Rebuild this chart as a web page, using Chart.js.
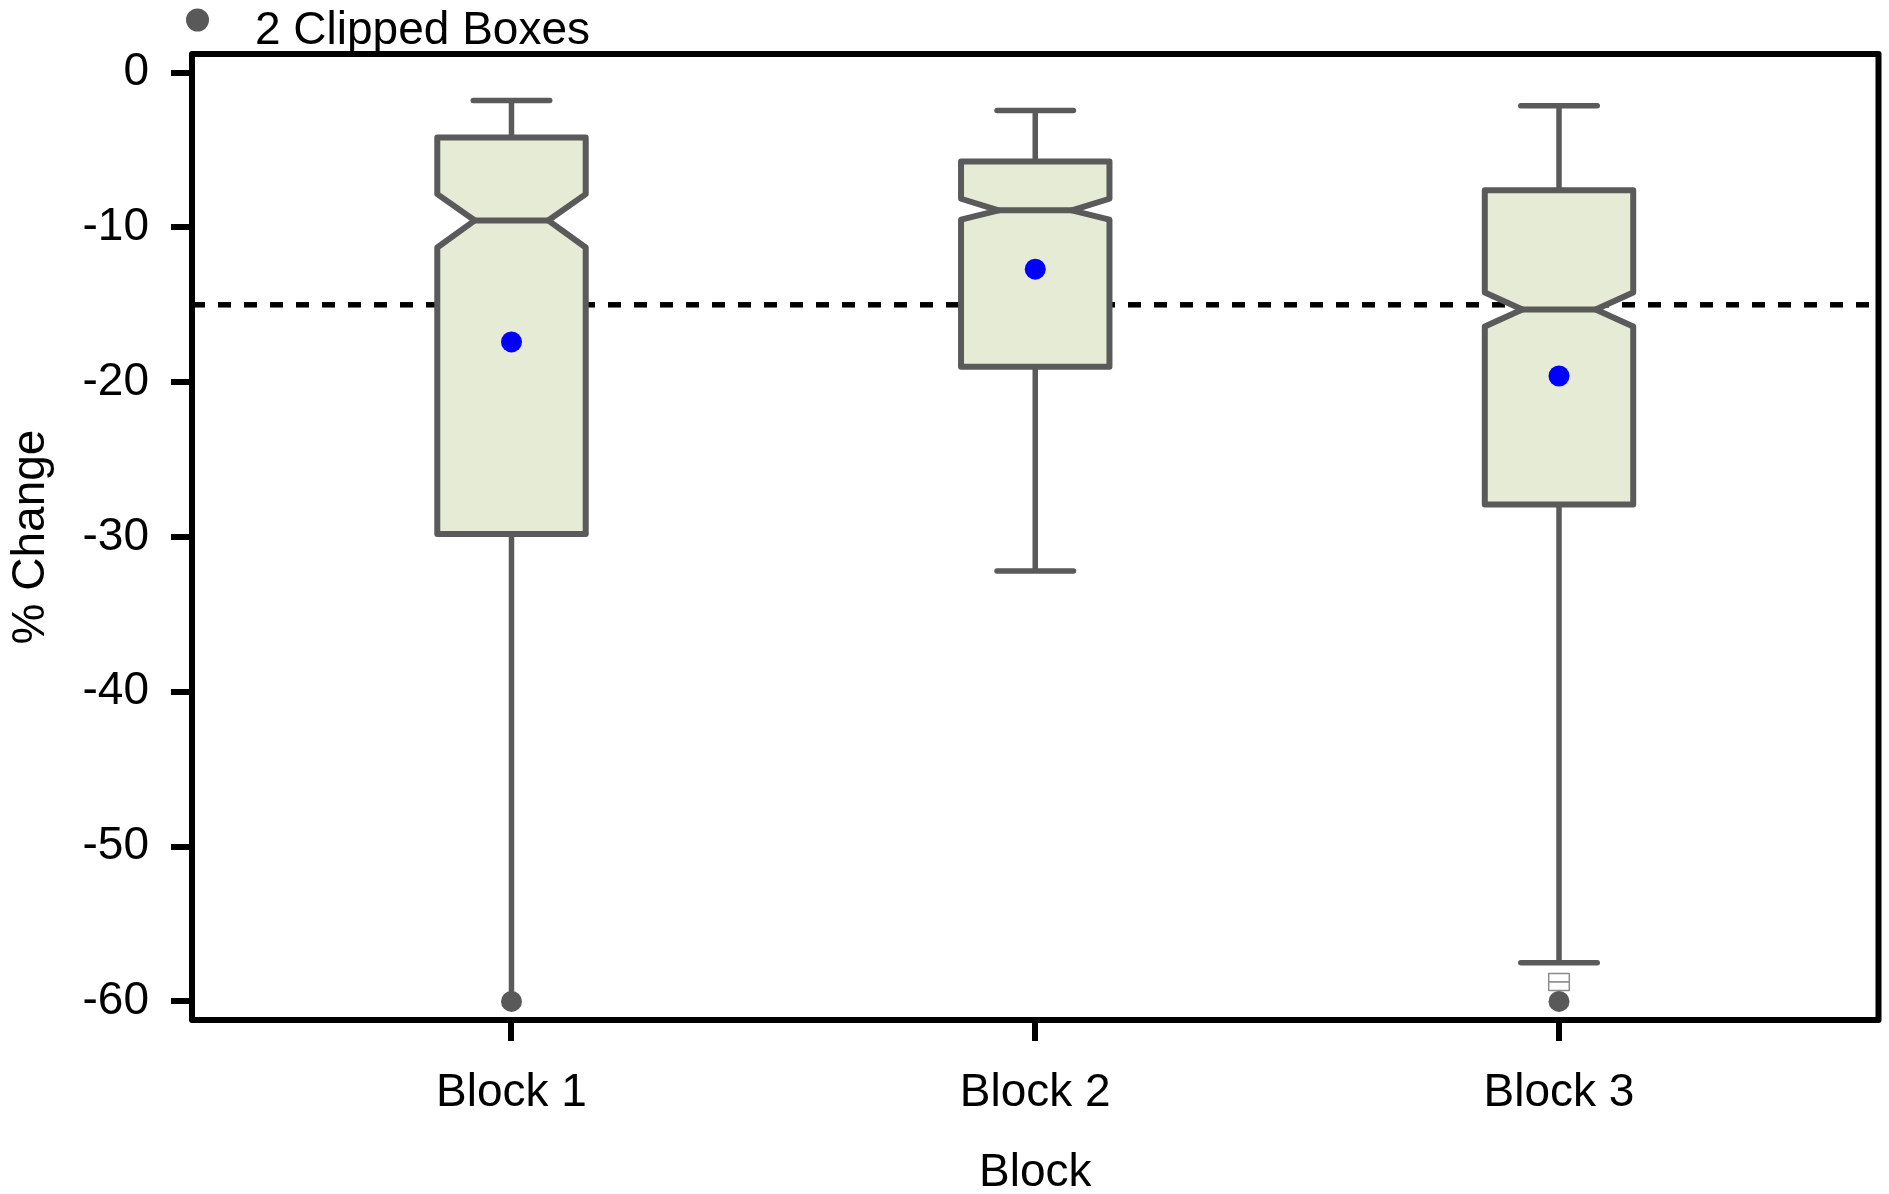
<!DOCTYPE html>
<html>
<head>
<meta charset="utf-8">
<script src="https://cdn.jsdelivr.net/npm/chart.js@4.4.0/dist/chart.umd.min.js"></script>
<style>
  html, body { margin: 0; padding: 0; background: #ffffff; }
  #wrap { width: 1889px; height: 1194px; position: relative; }
</style>
</head>
<body>
<div id="wrap"><canvas id="chart"></canvas></div>
<script>
// ---- data ----
const categories = ['Block 1', 'Block 2', 'Block 3'];
const positions = [1, 2, 3];
const whiskerHigh = [-1.8, -2.45, -2.15];
const q3 = [-4.2, -5.75, -7.6];
const notchHigh = [-7.85, -8.15, -14.2];
const median = [-9.55, -8.9, -15.3];
const notchLow = [-11.3, -9.5, -16.4];
const q1 = [-29.8, -19.0, -27.9];
const whiskerLow = [-60, -32.2, -57.5];
const whiskerLowCapped = [false, true, true];
const means = [-17.4, -12.7, -19.6];
const clippedX = [1, 3];
const clippedY = [-60, -60];
const outlierX = [3, 3];
const outlierY = [-58.47, -59.02];
const referenceValue = -15;
const yTicks = [0, -10, -20, -30, -40, -50, -60];
const legendLabel = '2 Clipped Boxes';
const xTitle = 'Block';
const yTitle = '% Change';

// ---- styles ----
const FONT = "'Liberation Sans', Arial, Helvetica, sans-serif";
const FSIZE = 46;
const boxLine = '#5a5a5a';
const boxFill = 'rgb(230,235,214)';
const boxHalf = 0.1417;
const notchHalf = 0.070;
const capHalf = 0.073;

const boxPlugin = {
  id: 'notchedBoxes',
  beforeDatasetsDraw(chart) {
    const { ctx, chartArea, scales: { x, y } } = chart;
    const px = v => x.getPixelForValue(v);
    const py = v => y.getPixelForValue(v);
    ctx.save();
    // reference line
    ctx.beginPath();
    ctx.setLineDash([13, 13]);
    ctx.lineWidth = 5.5;
    ctx.strokeStyle = '#000000';
    const ry = py(referenceValue);
    ctx.moveTo(chartArea.left, ry);
    ctx.lineTo(chartArea.right, ry);
    ctx.stroke();
    ctx.setLineDash([]);

    ctx.strokeStyle = boxLine;
    ctx.lineCap = 'round';
    ctx.lineJoin = 'round';
    positions.forEach((p, i) => {
      // whiskers
      ctx.lineWidth = 5.5;
      ctx.beginPath();
      ctx.moveTo(px(p), py(q3[i]));
      ctx.lineTo(px(p), py(whiskerHigh[i]));
      ctx.moveTo(px(p - capHalf), py(whiskerHigh[i]));
      ctx.lineTo(px(p + capHalf), py(whiskerHigh[i]));
      ctx.moveTo(px(p), py(q1[i]));
      ctx.lineTo(px(p), py(whiskerLow[i]));
      if (whiskerLowCapped[i]) {
        ctx.moveTo(px(p - capHalf), py(whiskerLow[i]));
        ctx.lineTo(px(p + capHalf), py(whiskerLow[i]));
      }
      ctx.stroke();
      // notched box
      ctx.lineWidth = 6;
      ctx.beginPath();
      ctx.moveTo(px(p - boxHalf), py(q3[i]));
      ctx.lineTo(px(p + boxHalf), py(q3[i]));
      ctx.lineTo(px(p + boxHalf), py(notchHigh[i]));
      ctx.lineTo(px(p + notchHalf), py(median[i]));
      ctx.lineTo(px(p + boxHalf), py(notchLow[i]));
      ctx.lineTo(px(p + boxHalf), py(q1[i]));
      ctx.lineTo(px(p - boxHalf), py(q1[i]));
      ctx.lineTo(px(p - boxHalf), py(notchLow[i]));
      ctx.lineTo(px(p - notchHalf), py(median[i]));
      ctx.lineTo(px(p - boxHalf), py(notchHigh[i]));
      ctx.closePath();
      ctx.fillStyle = boxFill;
      ctx.fill();
      ctx.stroke();
      // median
      ctx.beginPath();
      ctx.moveTo(px(p - notchHalf), py(median[i]));
      ctx.lineTo(px(p + notchHalf), py(median[i]));
      ctx.stroke();
    });
    // small outlier boxes
    ctx.lineWidth = 1.5;
    ctx.strokeStyle = '#8c8c8c';
    ctx.fillStyle = '#ffffff';
    outlierX.forEach((ox, i) => {
      const cx = px(ox), cy = py(outlierY[i]);
      ctx.beginPath();
      ctx.rect(cx - 10.3, cy - 4.3, 20.6, 8.6);
      ctx.fill();
      ctx.stroke();
    });
    ctx.restore();
  },
  afterDraw(chart) {
    const { ctx, chartArea } = chart;
    ctx.save();
    // frame
    ctx.lineWidth = 6;
    ctx.strokeStyle = '#000000';
    ctx.lineJoin = 'round';
    ctx.strokeRect(chartArea.left, chartArea.top, chartArea.right - chartArea.left, chartArea.bottom - chartArea.top);
    // legend
    ctx.beginPath();
    ctx.fillStyle = '#595959';
    ctx.arc(197.5, 20, 11.5, 0, Math.PI * 2);
    ctx.fill();
    ctx.fillStyle = '#000000';
    ctx.font = FSIZE + 'px ' + FONT;
    ctx.textBaseline = 'alphabetic';
    ctx.textAlign = 'left';
    ctx.fillText(legendLabel, 255, 43.5);
    ctx.restore();
  }
};

new Chart(document.getElementById('chart'), {
  type: 'scatter',
  data: {
    datasets: [
      {
        label: 'Mean',
        data: positions.map((p, i) => ({ x: p, y: means[i] })),
        pointRadius: 10.5,
        pointBackgroundColor: '#0000ff',
        pointBorderWidth: 0,
        clip: false
      },
      {
        label: legendLabel,
        data: clippedX.map((p, i) => ({ x: p, y: clippedY[i] })),
        pointRadius: 10.5,
        pointBackgroundColor: '#595959',
        pointBorderWidth: 0,
        clip: false
      }
    ]
  },
  options: {
    responsive: true,
    maintainAspectRatio: false,
    animation: false,
    events: [],
    layout: { padding: { top: 54, right: 8, left: 0, bottom: 0 } },
    plugins: { legend: { display: false }, tooltip: { enabled: false } },
    scales: {
      x: {
        type: 'linear',
        min: 0.39,
        max: 3.61,
        afterBuildTicks: s => { s.ticks = positions.map(v => ({ value: v })); },
        afterFit: s => { s.height = 174; },
        border: { display: false },
        grid: { drawOnChartArea: false, drawTicks: true, tickLength: 21, tickColor: '#000', lineWidth: 6 },
        ticks: {
          autoSkip: false,
          maxRotation: 0,
          padding: 25,
          color: '#000',
          font: { family: FONT, size: FSIZE, lineHeight: 1.2 },
          callback: (v, idx) => categories[idx]
        },
        title: {
          display: true, text: xTitle, color: '#000',
          font: { family: FONT, size: FSIZE, lineHeight: 0.9 },
          padding: { top: 0, bottom: 0 }
        }
      },
      y: {
        type: 'linear',
        min: -61.2,
        max: 1.2,
        afterBuildTicks: s => { s.ticks = yTicks.map(v => ({ value: v })); },
        afterFit: s => { s.width = 192; },
        border: { display: false },
        grid: { drawOnChartArea: false, drawTicks: true, tickLength: 21, tickColor: '#000', lineWidth: 6 },
        ticks: {
          autoSkip: false,
          padding: 22,
          color: '#000',
          font: { family: FONT, size: FSIZE, lineHeight: 1.2 },
          callback: v => String(v)
        },
        title: {
          display: true, text: yTitle, color: '#000',
          font: { family: FONT, size: FSIZE, lineHeight: 1.0 },
          padding: { top: 8, bottom: 0 }
        }
      }
    }
  },
  plugins: [boxPlugin]
});
</script>
</body>
</html>
